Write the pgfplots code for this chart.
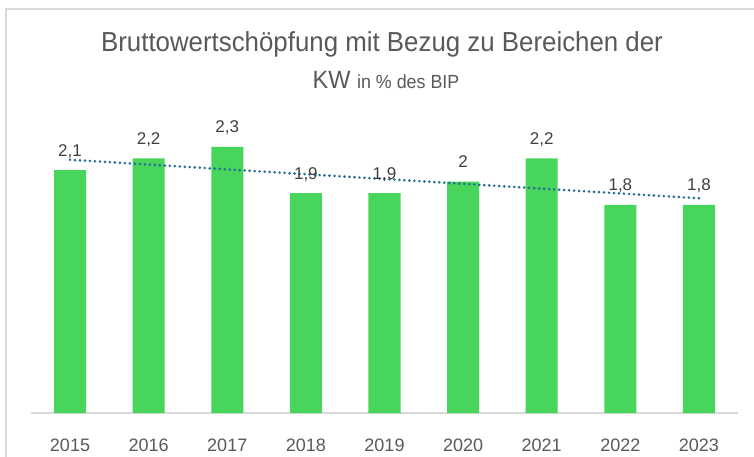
\documentclass[border=0pt]{standalone}
\usepackage{fontspec}
\setmainfont{Liberation Sans}
\newfontfamily\titlefont[FakeStretch=0.94]{Liberation Sans}
\usepackage{pgfplots}
\pgfplotsset{compat=1.18}
\definecolor{bargreen}{HTML}{47D55B}
\definecolor{trend}{HTML}{236E91}
\definecolor{txtgray}{HTML}{595959}
\definecolor{lblgray}{HTML}{404040}
\definecolor{framegray}{HTML}{D9D9D9}
\begin{document}
\begin{tikzpicture}[x=1pt,y=1pt]
  \path[use as bounding box] (0,0) rectangle (754,456);
  \draw[framegray, line width=1.5pt] (6,-10) rectangle (770,447);
  \node[anchor=base, text=txtgray, font=\titlefont\fontsize{27.5}{32}\selectfont] at (382,404)
    {Bruttowertschöpfung mit Bezug zu Bereichen der};
  \node[anchor=base, text=txtgray, font=\titlefont\fontsize{25}{30}\selectfont] at (386,367)
    {KW {\fontsize{19}{23}\selectfont in \% des BIP}};
  \begin{axis}[
    at={(30.7pt,43pt)}, anchor=south west,
    scale only axis,
    width=707.6pt, height=303pt,
    ybar, bar width=32pt,
    xmin=-0.5, xmax=8.5, ymin=0, ymax=2.619,
    axis x line*=bottom, axis y line=none,
    x axis line style={framegray, line width=1.5pt, -},
    xtick={0,...,8},
    xticklabels={2015,2016,2017,2018,2019,2020,2021,2022,2023},
    xtick style={draw=none},
    xticklabel style={anchor=base, yshift=-34pt, text=txtgray, font=\fontsize{18}{21}\selectfont},
    ytick=\empty,
    nodes near coords,
    nodes near coords style={anchor=base, yshift=14pt, text=lblgray, font=\fontsize{17}{20}\selectfont},
    /pgf/number format/.cd, use comma, fixed, precision=1, assume math mode=true,
  ]
    \addplot[fill=bargreen, draw=none] coordinates {
      (0,2.1) (1,2.2) (2,2.3) (3,1.9) (4,1.9) (5,2.0) (6,2.2) (7,1.8) (8,1.8)
    };
    \addplot[sharp plot, color=trend, line width=2.9pt, line cap=round,
      dash pattern=on 0pt off 5pt, nodes near coords=] coordinates {
      (0,2.189) (8,1.856)
    };
  \end{axis}
\end{tikzpicture}
\end{document}
